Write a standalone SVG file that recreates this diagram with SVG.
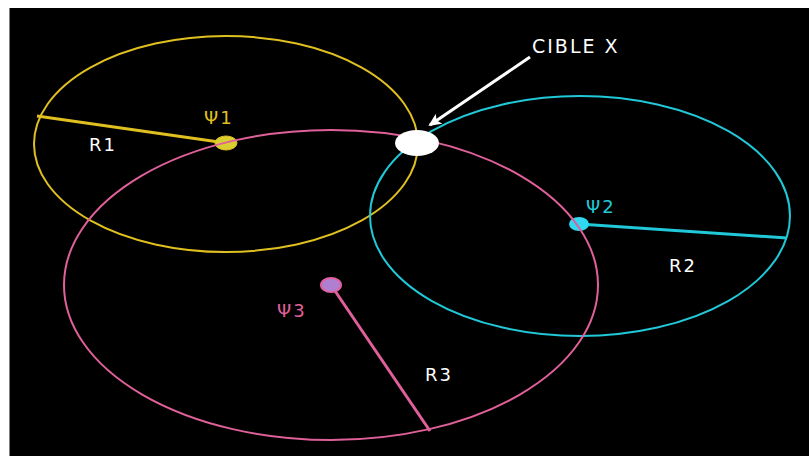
<svg xmlns="http://www.w3.org/2000/svg" width="809" height="456" viewBox="0 0 809 456">
<defs>
<style>
.lbl{font-family:"DejaVu Sans","Liberation Sans",sans-serif;font-size:18px;letter-spacing:2px;font-weight:500;}
.w{fill:#ffffff;}
</style>
<marker id="ah" markerWidth="14" markerHeight="12" refX="11" refY="6" orient="auto" markerUnits="userSpaceOnUse">
<path d="M0,0 L13,6 L0,12 L3,6 Z" fill="#ffffff"/>
</marker>
</defs>
<rect x="0" y="0" width="809" height="456" fill="#ffffff"/>
<rect x="9.5" y="8" width="800" height="448" fill="#000000"/>
<g id="circle1">
<ellipse cx="226" cy="144" rx="192" ry="108" fill="none" stroke="#e0c020" stroke-width="2"/>
<line x1="226" y1="143" x2="37" y2="116" stroke="#e0c020" stroke-width="3"/>
<ellipse cx="226" cy="143" rx="11" ry="7" fill="#d8d030" stroke="#e0c020" stroke-width="1"/>
<text x="204" y="124" class="lbl" fill="#e0c020">Ψ1</text>
<text x="89" y="151" class="lbl w">R1</text>
</g>
<g id="circle2">
<ellipse cx="580" cy="216" rx="210" ry="120" fill="none" stroke="#20c8d8" stroke-width="2"/>
<line x1="579" y1="224" x2="787" y2="238" stroke="#20c8d8" stroke-width="3"/>
<ellipse cx="579" cy="224" rx="10" ry="7" fill="#30d8f0"/>
<text x="586" y="213" class="lbl" fill="#20c8d8">Ψ2</text>
<text x="669" y="272" class="lbl w">R2</text>
</g>
<g id="circle3">
<ellipse cx="331" cy="285" rx="267" ry="155" fill="none" stroke="#e0609a" stroke-width="2"/>
<line x1="331" y1="285" x2="430" y2="431" stroke="#e0609a" stroke-width="3"/>
<ellipse cx="331" cy="285" rx="10" ry="7" fill="#b080d0" stroke="#e060a0" stroke-width="2"/>
<text x="277" y="317" class="lbl" fill="#e0609a">Ψ3</text>
<text x="425" y="381" class="lbl w">R3</text>
</g>
<g id="target">
<ellipse cx="417" cy="143" rx="22" ry="13" fill="#ffffff"/>
<text x="532" y="53" class="lbl w" style="font-size:19px">CIBLE X</text>
</g>
<g id="connectors">
<line x1="530" y1="57" x2="430" y2="125" stroke="#ffffff" stroke-width="3" marker-end="url(#ah)"/>
</g>
</svg>
